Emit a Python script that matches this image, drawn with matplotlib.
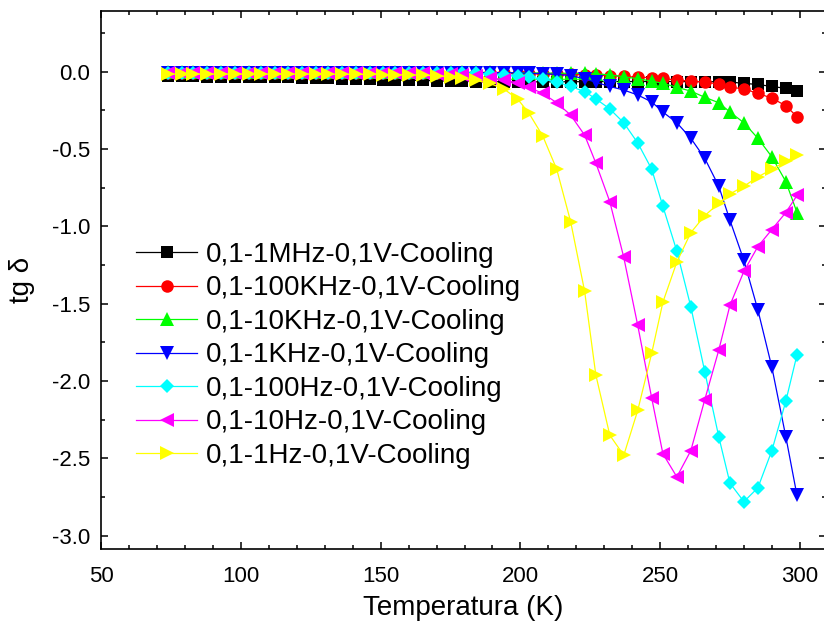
import matplotlib
matplotlib.use('Agg')
import matplotlib.pyplot as plt
from matplotlib.ticker import MultipleLocator

plt.rcParams['font.family'] = ['Liberation Sans', 'DejaVu Sans']

# temperatura (K), same grid for all curves
temps = [74, 79, 83, 88, 93, 98, 103, 107, 112, 117,
         122, 127, 131, 136, 141, 146, 151, 155, 160, 165,
         170, 175, 179, 184, 189, 194, 199, 203, 208, 213,
         218, 223, 227, 232, 237, 242, 247, 251, 256, 261,
         266, 271, 275, 280, 285, 290, 295, 299]

tg_1MHz = [-0.030, -0.030, -0.030, -0.031, -0.031, -0.032, -0.033, -0.034, -0.035, -0.036,
           -0.038, -0.040, -0.042, -0.044, -0.046, -0.048, -0.050, -0.052, -0.054, -0.056,
           -0.058, -0.060, -0.062, -0.063, -0.064, -0.065, -0.065, -0.065, -0.065, -0.065,
           -0.064, -0.064, -0.064, -0.063, -0.063, -0.063, -0.063, -0.063, -0.063, -0.064,
           -0.064, -0.064, -0.066, -0.075, -0.082, -0.095, -0.107, -0.125]

tg_100KHz = [-0.005, -0.005, -0.005, -0.005, -0.005, -0.005, -0.005, -0.005, -0.006, -0.006,
             -0.006, -0.006, -0.006, -0.006, -0.007, -0.007, -0.007, -0.007, -0.007, -0.008,
             -0.008, -0.008, -0.009, -0.009, -0.010, -0.011, -0.012, -0.013, -0.014, -0.015,
             -0.017, -0.020, -0.022, -0.025, -0.030, -0.035, -0.038, -0.042, -0.054, -0.060,
             -0.066, -0.080, -0.100, -0.110, -0.140, -0.170, -0.220, -0.290]

tg_10KHz = [0.000, 0.000, 0.000, 0.000, 0.000, 0.000, 0.000, 0.000, 0.000, 0.000,
            0.000, 0.000, 0.000, 0.000, 0.000, -0.001, -0.001, -0.001, -0.002, -0.002,
            -0.002, -0.003, -0.003, -0.004, -0.004, -0.005, -0.006, -0.007, -0.008, -0.009,
            -0.010, -0.011, -0.013, -0.020, -0.032, -0.045, -0.060, -0.075, -0.100, -0.125,
            -0.165, -0.200, -0.260, -0.330, -0.430, -0.550, -0.710, -0.910]

tg_1KHz = [-0.005, -0.005, -0.005, -0.005, -0.005, -0.005, -0.005, -0.005, -0.005, -0.005,
           -0.005, -0.005, -0.005, -0.005, -0.005, -0.005, -0.005, -0.005, -0.005, -0.005,
           -0.005, -0.005, -0.005, -0.006, -0.006, -0.006, -0.007, -0.010, -0.012, -0.017,
           -0.025, -0.045, -0.068, -0.095, -0.118, -0.150, -0.195, -0.260, -0.330, -0.430,
           -0.560, -0.740, -0.960, -1.220, -1.540, -1.910, -2.360, -2.740]

tg_100Hz = [-0.005, -0.005, -0.005, -0.005, -0.005, -0.005, -0.005, -0.005, -0.005, -0.005,
            -0.005, -0.005, -0.005, -0.005, -0.005, -0.005, -0.005, -0.005, -0.005, -0.005,
            -0.005, -0.007, -0.008, -0.010, -0.013, -0.018, -0.025, -0.034, -0.047, -0.066,
            -0.095, -0.128, -0.175, -0.240, -0.330, -0.460, -0.630, -0.870, -1.160, -1.520,
            -1.940, -2.360, -2.660, -2.780, -2.690, -2.450, -2.130, -1.830]

tg_10Hz = [-0.005, -0.005, -0.005, -0.005, -0.005, -0.005, -0.005, -0.005, -0.005, -0.005,
           -0.005, -0.005, -0.005, -0.005, -0.005, -0.005, -0.005, -0.005, -0.007, -0.009,
           -0.012, -0.016, -0.022, -0.030, -0.040, -0.050, -0.073, -0.100, -0.140, -0.200,
           -0.280, -0.410, -0.590, -0.840, -1.200, -1.640, -2.110, -2.470, -2.620, -2.450,
           -2.120, -1.800, -1.510, -1.290, -1.130, -1.020, -0.910, -0.800]

tg_1Hz = [-0.015, -0.015, -0.015, -0.015, -0.015, -0.015, -0.015, -0.015, -0.015, -0.015,
          -0.015, -0.015, -0.016, -0.016, -0.017, -0.017, -0.018, -0.019, -0.020, -0.022,
          -0.026, -0.032, -0.043, -0.055, -0.075, -0.110, -0.176, -0.266, -0.415, -0.630,
          -0.970, -1.420, -1.960, -2.350, -2.480, -2.190, -1.820, -1.490, -1.230, -1.040,
          -0.930, -0.850, -0.790, -0.740, -0.680, -0.630, -0.580, -0.540]

series = [
    (tg_1MHz, '0,1-1MHz-0,1V-Cooling', 'black', 's', 8),
    (tg_100KHz, '0,1-100KHz-0,1V-Cooling', 'red', 'o', 9),
    (tg_10KHz, '0,1-10KHz-0,1V-Cooling', '#00ff00', '^', 10),
    (tg_1KHz, '0,1-1KHz-0,1V-Cooling', 'blue', 'v', 10),
    (tg_100Hz, '0,1-100Hz-0,1V-Cooling', 'cyan', 'D', 7),
    (tg_10Hz, '0,1-10Hz-0,1V-Cooling', 'magenta', '<', 10),
    (tg_1Hz, '0,1-1Hz-0,1V-Cooling', 'yellow', '>', 10),
]

fig = plt.figure(figsize=(8.24, 6.3), dpi=100)
ax = fig.add_axes([0.1229, 0.1281, 0.8796, 0.8549])

for vals, lab, col, mk, ms in series:
    ax.plot(temps, vals, color=col, marker=mk, markersize=ms, linewidth=0.9,
            markeredgewidth=0, label=lab)

ax.set_xlim(50, 309.4)
ax.set_ylim(-3.088, 0.395)
ax.xaxis.set_major_locator(MultipleLocator(50))
ax.xaxis.set_minor_locator(MultipleLocator(10))
ax.yaxis.set_major_locator(MultipleLocator(0.5))
ax.yaxis.set_minor_locator(MultipleLocator(0.25))
ax.yaxis.set_major_formatter(plt.FormatStrFormatter('%.1f'))

ax.tick_params(which='both', direction='in', top=True, right=True, width=1.1,
               labelsize=16)
ax.tick_params(which='major', length=5, pad=8)
ax.tick_params(axis='x', which='major', pad=12)
ax.tick_params(which='minor', length=3)
for sp in ax.spines.values():
    sp.set_linewidth(1.2)

ax.set_xlabel('Temperatura (K)', fontsize=20, labelpad=6)
ax.set_ylabel('tg δ', fontsize=20, labelpad=12)

ax.legend(loc='upper left', bbox_to_anchor=(0.048, 0.571), frameon=False,
          fontsize=20, handlelength=2.2, handletextpad=0.33,
          labelspacing=0.27, borderpad=0, borderaxespad=0, numpoints=1)

fig.savefig('out.png', dpi=100)
